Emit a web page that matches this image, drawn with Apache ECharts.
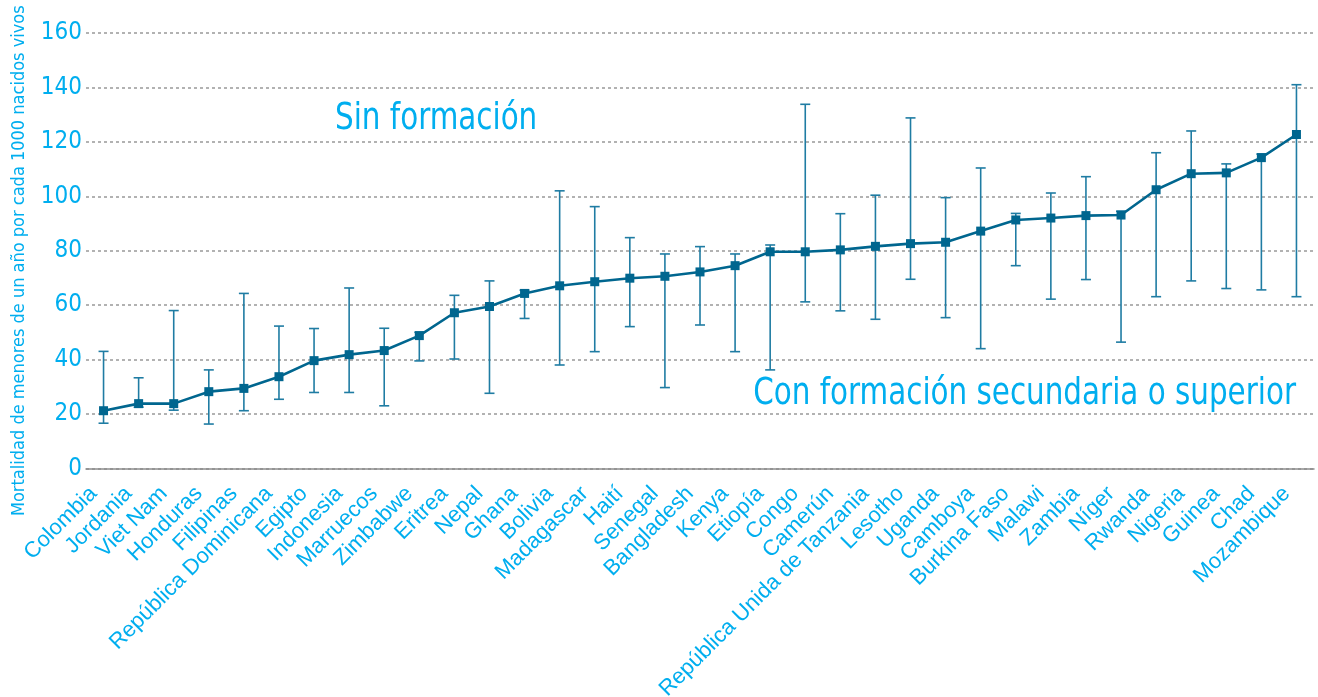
<!DOCTYPE html>
<html>
<head>
<meta charset="utf-8">
<script src="https://cdn.jsdelivr.net/npm/echarts@6/dist/echarts.min.js"></script>
<style>
  html, body { margin: 0; padding: 0; background: #fff; }
  #chart { width: 1318px; height: 697px; }
</style>
</head>
<body>
<div id="chart"></div>
<script>
var countries = ['Colombia', 'Jordania', 'Viet Nam', 'Honduras', 'Filipinas', 'República Dominicana', 'Egipto',
  'Indonesia', 'Marruecos', 'Zimbabwe', 'Eritrea', 'Nepal', 'Ghana', 'Bolivia', 'Madagascar', 'Haití', 'Senegal',
  'Bangladesh', 'Kenya', 'Etiopía', 'Congo', 'Camerún', 'República Unida de Tanzania', 'Lesotho', 'Uganda',
  'Camboya', 'Burkina Faso', 'Malawi', 'Zambia', 'Níger', 'Rwanda', 'Nigeria', 'Guinea', 'Chad', 'Mozambique']
var mortality = [21.2, 23.8, 23.8, 28.2, 29.4, 33.7, 39.6, 41.8, 43.3, 48.8, 57.2, 59.5, 64.3, 67.1, 68.6, 69.9,
  70.6, 72.2, 74.5, 79.6, 79.6, 80.3, 81.6, 82.6, 83.1, 87.2, 91.3, 92.0, 92.9, 93.1, 102.4, 108.3, 108.6, 114.2, 122.7]
// con formación secundaria o superior (extremo inferior)
var withSecondary = [16.6, 22.5, 21.4, 16.3, 21.2, 25.4, 27.9, 27.9, 23.0, 39.5, 40.2, 27.6, 55.1, 38.0, 42.9, 52.1,
  29.7, 52.7, 42.9, 36.2, 61.2, 57.9, 54.8, 69.5, 55.4, 44.0, 74.5, 62.2, 69.4, 46.4, 63.1, 68.9, 66.1, 65.6, 63.1]
// sin formación (extremo superior)
var noEducation = [43.0, 33.3, 58.0, 36.2, 64.3, 52.3, 51.4, 66.3, 51.5, 50.0, 63.6, 68.9, 65.5, 102.0, 96.2, 84.8,
  78.8, 81.5, 78.8, 82.1, 133.8, 93.6, 100.4, 128.8, 99.5, 110.4, 93.7, 101.2, 107.2, 94.5, 116.0, 124.0, 111.9, 115.5, 141.0]
var yTicks = [0, 20, 40, 60, 80, 100, 120, 140, 160]

var cyan = '#00aeef'
var dark = '#00668f'
var narrow = '"Liberation Sans Narrow", "DejaVu Sans Condensed", sans-serif'

var chart = echarts.init(document.getElementById('chart'))

var errData = countries.map(function (c, i) {
  return [i, withSecondary[i], noEducation[i]]
})

chart.setOption({
  animation: false,
  grid: { left: 86, right: 4, top: 33, bottom: 228.6, outerBoundsMode: 'none', containLabel: false },
  xAxis: [
    {
      type: 'category',
      data: countries,
      boundaryGap: true,
      axisLine: { lineStyle: { color: '#8c8c8c', width: 1.5 } },
      axisTick: { length: 5, lineStyle: { color: '#8c8c8c', width: 1.5 } },
      axisLabel: {
        rotate: 45,
        interval: 0,
        margin: 12,
        padding: [0, 14, 0, 0],
        color: cyan,
        fontSize: 22,
        fontFamily: '"Liberation Sans", Arial, sans-serif'
      }
    },
    {
      type: 'category',
      data: countries,
      position: 'bottom',
      boundaryGap: true,
      axisLine: { show: false },
      axisTick: { inside: true, length: 5, lineStyle: { color: '#8c8c8c', width: 1.5 } },
      axisLabel: { show: false }
    }
  ],
  yAxis: {
    type: 'value',
    min: yTicks[0],
    max: yTicks[yTicks.length - 1],
    interval: 20,
    name: 'Mortalidad de menores de un año por cada 1000 nacidos vivos',
    nameLocation: 'middle',
    nameRotate: 90,
    nameGap: 58,
    nameTextStyle: { color: cyan, fontSize: 18, fontFamily: narrow, padding: [0, 20, 0, 0] },
    axisLine: { show: false },
    axisTick: { show: false },
    axisLabel: { color: cyan, fontSize: 24, fontFamily: narrow, margin: 4 },
    splitLine: { lineStyle: { color: '#999', width: 1.5, type: [3, 3] } }
  },
  graphic: [
    {
      type: 'text', x: 335, y: 100, scaleX: 0.86,
      style: { text: 'Sin formación', fill: cyan, fontSize: 38, fontFamily: narrow }
    },
    {
      type: 'text', x: 1296, y: 375, scaleX: 0.86,
      style: { text: 'Con formación secundaria o superior', fill: cyan, fontSize: 38, fontFamily: narrow,
        textAlign: 'right' }
    }
  ],
  series: [
    {
      type: 'custom',
      z: 2,
      data: errData,
      renderItem: function (params, api) {
        var lo = api.coord([api.value(0), api.value(1)])
        var hi = api.coord([api.value(0), api.value(2)])
        var w = 5
        var st = { stroke: '#1f7ca3', lineWidth: 1.6 }
        return {
          type: 'group',
          children: [
            { type: 'line', shape: { x1: lo[0], y1: lo[1], x2: hi[0], y2: hi[1] }, style: st },
            { type: 'line', shape: { x1: lo[0] - w, y1: lo[1], x2: lo[0] + w, y2: lo[1] }, style: st },
            { type: 'line', shape: { x1: hi[0] - w, y1: hi[1], x2: hi[0] + w, y2: hi[1] }, style: st }
          ]
        }
      }
    },
    {
      type: 'line',
      z: 3,
      data: mortality,
      symbol: 'rect',
      symbolSize: 9,
      lineStyle: { color: dark, width: 2.6 },
      itemStyle: { color: dark }
    }
  ]
})
</script>
</body>
</html>
